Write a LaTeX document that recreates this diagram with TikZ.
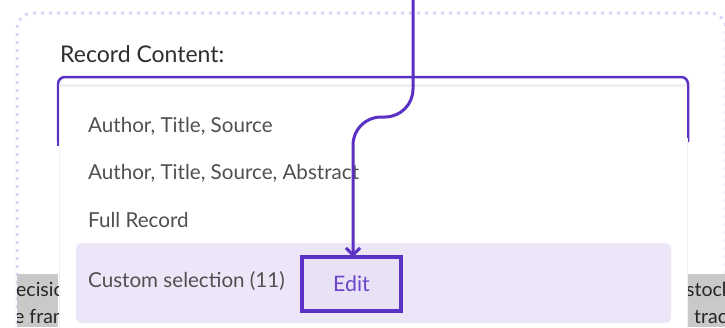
\documentclass[tikz,border=0pt]{standalone}
\usepackage{fontspec}
\setmainfont{Lato}
\usetikzlibrary{arrows.meta}
\definecolor{brand}{HTML}{5B30C4}
\definecolor{dotcol}{HTML}{DDD5FA}
\definecolor{hilite}{HTML}{EDE6F8}
\definecolor{editfill}{HTML}{E9E1F6}
\definecolor{edittext}{HTML}{6A45C9}
\definecolor{optgray}{HTML}{505050}
\definecolor{labelgray}{HTML}{2E2E2E}
\definecolor{snip}{HTML}{C9C9C9}
\definecolor{panelEdge}{HTML}{EFEFEF}
\tikzset{
  opttext/.style={anchor=west, inner sep=0pt, text=optgray, font=\fontsize{20.6}{22}\selectfont},
  sniptext/.style={anchor=west, inner sep=0pt, text=black!85, font=\fontsize{19.5}{21}\selectfont},
  arrowline/.style={draw=brand, line width=3pt, rounded corners=28pt},
  editbox/.style={draw=brand, line width=4pt, fill=editfill, minimum width=99pt, minimum height=54pt, inner sep=0pt, text=edittext, font=\fontsize{21.3}{23}\selectfont}
}
\begin{document}
\begin{tikzpicture}[x=1pt,y=-1pt]
\useasboundingbox (0,0) rectangle (725,327);
\fill[white] (0,0) rectangle (725,327);
% outer dotted frame
\draw[dotcol, line width=3pt, dash pattern=on 3pt off 5pt, rounded corners=16pt]
  (17,340) -- (17,13) -- (726,13) -- (726,340);
% snippets of page text
\fill[snip] (17,274) rectangle (58,327);
\begin{scope}
  \clip (17,274) rectangle (58,327);
  \node[sniptext] (snipL1) at (16,289) {ecision};
  \node[sniptext] (snipL2) at (14,316) {e frame};
\end{scope}
\fill[snip] (686,274) rectangle (725,327);
\begin{scope}
  \clip (686,274) rectangle (725,327);
  \node[sniptext] (snipR1) at (686,289) {stock};
  \node[sniptext] (snipR2) at (694,316) {track};
\end{scope}
% label
\node[anchor=west, inner sep=0pt, text=labelgray, font=\fontsize{23}{25}\selectfont] (label) at (60,54) {Record Content:};
% select box purple frame
\draw[brand, line width=2.5pt, rounded corners=7pt] (58,142) -- (58,77) -- (688,77) -- (688,142);
% dropdown panel
\fill[white] (59,84) rectangle (687,330);
\fill[panelEdge] (59,84) rectangle (687,87);
\draw[panelEdge, line width=1pt] (59,87) -- (59,330) (687,87) -- (687,330);
\draw[brand, line width=2.5pt] (58,84) -- (58,146) (688,84) -- (688,138);
% options
\node[opttext] (opt1) at (88,126) {Author, Title, Source};
\node[opttext] (opt2) at (88,173) {Author, Title, Source, Abstract};
\node[opttext] (opt3) at (88,220) {Full Record};
\fill[hilite, rounded corners=6pt] (76,243) rectangle (671,323);
\node[opttext] (opt4) at (88,281) {Custom selection (11)};
\node[editbox] (edit) at (351.5,284) {Edit};
% connector
\coordinate (src) at (413,-2);
\draw[arrowline, -{Straight Barb[length=7pt,width=14pt,line width=3pt]}]
  (src) -- (src |- 0,117) -- ([xshift=1.5pt]edit.north |- 0,117) -- ([xshift=1.5pt,yshift=-2pt]edit.north);
\end{tikzpicture}
\end{document}
